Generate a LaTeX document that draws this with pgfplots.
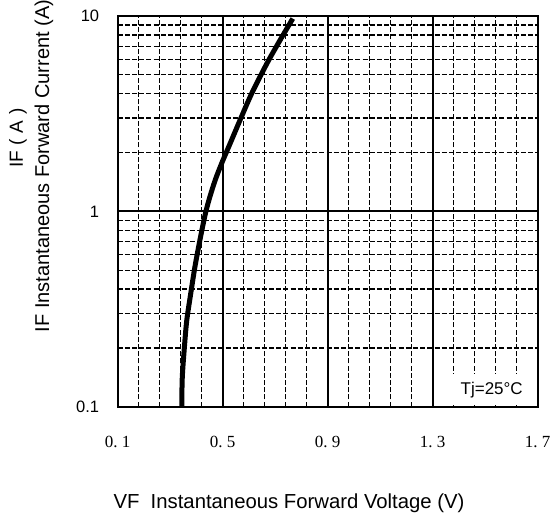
\documentclass[border=0pt]{standalone}
\usepackage{fontspec}
\setmainfont{Liberation Sans}
\newfontfamily\serifx{Liberation Serif}
\usepackage{pgfplots}
\pgfplotsset{compat=1.18}
\begin{document}
\begin{tikzpicture}[x=1pt,y=1pt]
\useasboundingbox (-117.7,-114.3) rectangle (434.3,406.7);
\begin{axis}[
  at={(0,0)}, anchor=south west, scale only axis,
  width=420pt, height=390.7pt,
  xmin=0.1, xmax=1.7, ymode=log, ymin=0.1, ymax=10,
  xtick={0.1,0.5,0.9,1.3,1.7}, minor x tick num=4,
  xticklabels={0.\hspace{0.25em}1,0.\hspace{0.25em}5,0.\hspace{0.25em}9,1.\hspace{0.25em}3,1.\hspace{0.25em}7},
  ytick={0.1,1,10}, yticklabels={0.1,1,10},
  grid=both,
  major grid style={black, line width=1.8pt},
  minor grid style={black, line width=1.3pt, dash pattern=on 5pt off 2.2pt},
  axis line style={black, line width=2.2pt},
  major tick length=0pt, minor tick length=0pt,
  xticklabel style={font=\serifx\fontsize{17}{17}\selectfont, yshift=-26pt},
  yticklabel style={font=\fontsize{16.5}{16.5}\selectfont, xshift=-15pt},
  clip=false,
]
\addplot[black, line width=5pt, smooth, tension=0.5] coordinates {
  (0.344,0.1) (0.346,0.141) (0.354,0.201) (0.363,0.276) (0.378,0.378)
  (0.394,0.518) (0.413,0.71) (0.433,0.96) (0.449,1.16) (0.471,1.44)
  (0.496,1.76) (0.528,2.22) (0.566,2.93) (0.610,4.0) (0.668,5.7)
  (0.718,7.5) (0.767,9.7)
};
\node[anchor=south east, fill=white, minimum width=89pt, minimum height=31pt, inner sep=0pt,
  font=\fontsize{17}{17}\selectfont] at ([xshift=-1.3pt,yshift=1.3pt]rel axis cs:1,0) {Tj=25°C};
\end{axis}
\node[font=\fontsize{20.3}{20.3}\selectfont] at (171.3,-96.3) {VF\ \ Instantaneous Forward Voltage (V)};
\node[font=\fontsize{20}{20}\selectfont, rotate=90] at (-73.7,240.7) {IF Instantaneous Forward Current (A)};
\node[font=\fontsize{19}{19}\selectfont, rotate=90] at (-99.7,268.7) {IF\hspace{0.3em}(\hspace{0.3em}A\hspace{0.3em})};
\end{tikzpicture}
\end{document}
